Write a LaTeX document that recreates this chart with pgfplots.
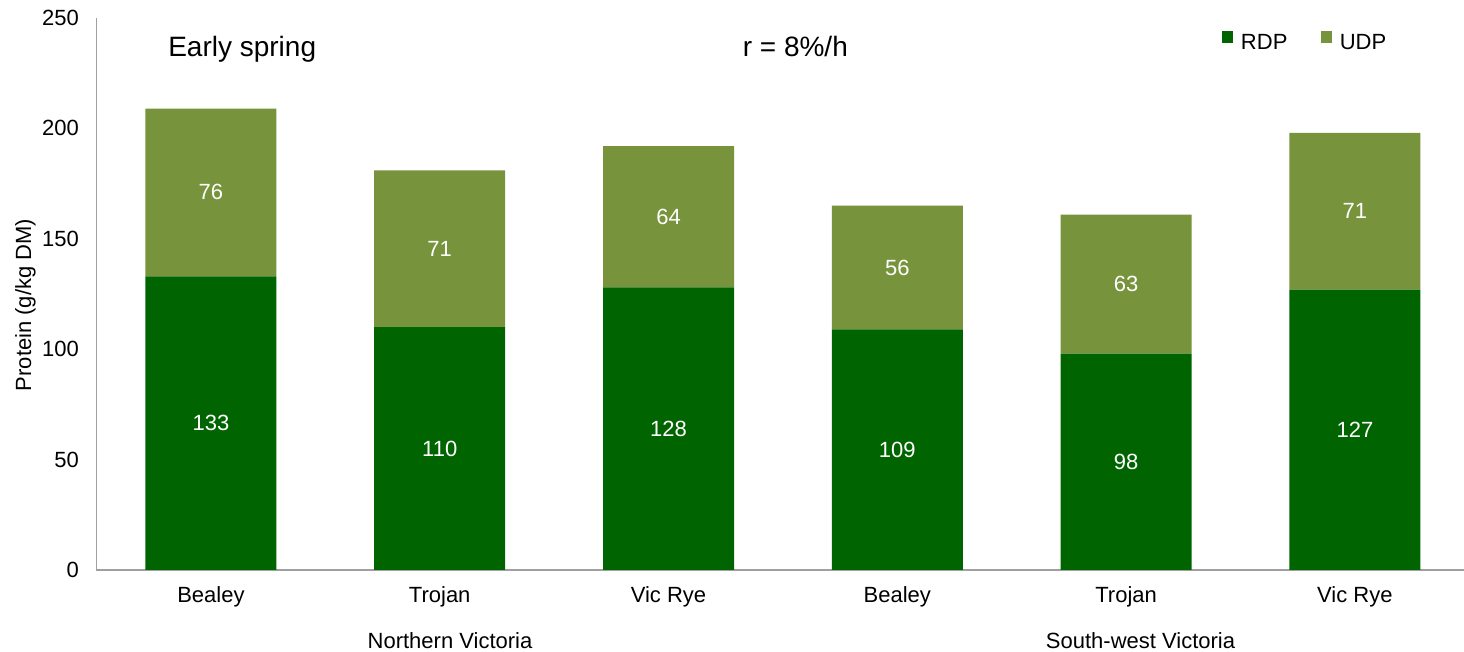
\documentclass[border=0pt]{standalone}
\usepackage{pgfplots}
\pgfplotsset{compat=1.18}
\usepackage{pgfplotstable}
\usepackage{fontspec}
\setmainfont{Liberation Sans}
\definecolor{rdpcol}{RGB}{0,100,0}
\definecolor{udpcol}{RGB}{119,147,60}
\definecolor{axgray}{RGB}{160,160,160}
\pgfplotstableread{
x rdp udp
0 133 76
1 110 71
2 128 64
3 109 56
4 98 63
5 127 71
}\data
\begin{document}
\begin{tikzpicture}
\useasboundingbox (-72.375pt,-61.5pt) rectangle (1025.625pt,427.5pt);
\begin{axis}[
  at={(0,0)}, anchor=south west,
  scale only axis, width=1025.625pt, height=414pt,
  ybar stacked, bar width=98.25pt,
  xmin=-0.5, xmax=5.477, ymin=0, ymax=250,
  axis x line*=bottom, axis y line*=left,
  axis line style={draw=axgray, line width=1pt},
  major tick length=0pt,
  xtick={0,...,5},
  xticklabels={Bealey,Trojan,Vic Rye,Bealey,Trojan,Vic Rye},
  ytick={0,50,...,250},
  /pgf/number format/assume math mode=true,
  tick label style={font=\fontsize{16.5}{18}\selectfont, text=black},
  xticklabel style={anchor=north, inner sep=0pt, yshift=-12.5pt},
  yticklabel style={anchor=east, inner sep=0pt, xshift=-13pt},
  clip=false,
  point meta=explicit,
  nodes near coords,
  nodes near coords style={font=\fontsize{16.5}{18}\selectfont, text=white, anchor=center},
  legend style={at={(axis description cs:0.823,0.940)}, anchor=south west, draw=none, fill=none, inner sep=0pt, outer sep=0pt,
    nodes={inner sep=0pt}, font=\fontsize{16.5}{18}\selectfont,
    /tikz/every odd column/.append style={column sep=6pt},
    /tikz/every even column/.append style={column sep=25pt}},
  legend columns=2,
  legend image code/.code={\fill[#1] (0pt,0pt) rectangle (8.25pt,9pt);},
]
\addplot[fill=rdpcol, draw=none] table[x=x, y=rdp, meta=rdp] \data;
\addplot[fill=udpcol, draw=none] table[x=x, y=udp, meta=udp] \data;
\legend{RDP,UDP}
\node[anchor=base west, inner sep=0pt, font=\fontsize{21}{24}\selectfont] at (axis description cs:0.0523,0.931) {Early spring};
\node[anchor=base, inner sep=0pt, font=\fontsize{21}{24}\selectfont] at (axis description cs:0.511,0.931) {r = 8\%/h};
\node[anchor=north, inner sep=0pt, font=\fontsize{16.5}{18}\selectfont] at (axis cs:1.045,0) [yshift=-47pt] {Northern Victoria};
\node[anchor=north, inner sep=0pt, font=\fontsize{16.5}{18}\selectfont] at (axis cs:4.063,0) [yshift=-47pt] {South-west Victoria};
\node[rotate=90, anchor=north, inner sep=0pt, font=\fontsize{16.5}{18}\selectfont] at (axis description cs:-0.0596,0.48) {Protein (g/kg DM)};
\end{axis}
\end{tikzpicture}
\end{document}
